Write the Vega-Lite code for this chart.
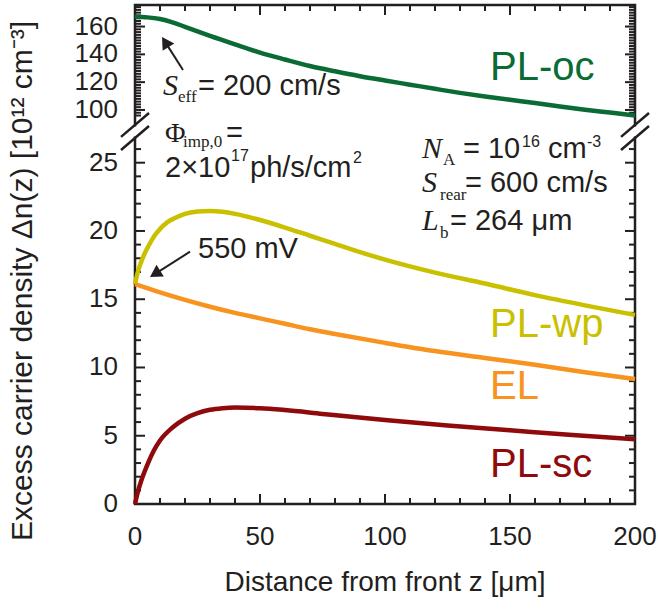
{
  "$schema": "https://vega.github.io/schema/vega-lite/v6.json",
  "width": 500,
  "height": 499,
  "autosize": {"type": "none"},
  "padding": {"left": 135, "top": 5, "right": 23, "bottom": 106},
  "background": "white",
  "config": {
    "view": {"stroke": "#231f20", "strokeWidth": 2.5},
    "font": "Liberation Sans"
  },
  "datasets": {
    "lines": [
      {"series": "PL-oc", "x": 0, "y": 167.0}, {"series": "PL-oc", "x": 5, "y": 166.6}, {"series": "PL-oc", "x": 10, "y": 165.4}, {"series": "PL-oc", "x": 15, "y": 163.0}, {"series": "PL-oc", "x": 20, "y": 159.8}, {"series": "PL-oc", "x": 25, "y": 156.5}, {"series": "PL-oc", "x": 30, "y": 153.3}, {"series": "PL-oc", "x": 40, "y": 147.2}, {"series": "PL-oc", "x": 50, "y": 141.3}, {"series": "PL-oc", "x": 60, "y": 136.3}, {"series": "PL-oc", "x": 70, "y": 131.6}, {"series": "PL-oc", "x": 80, "y": 127.8}, {"series": "PL-oc", "x": 90, "y": 124.3}, {"series": "PL-oc", "x": 100, "y": 121.2}, {"series": "PL-oc", "x": 110, "y": 118.2}, {"series": "PL-oc", "x": 120, "y": 115.2}, {"series": "PL-oc", "x": 130, "y": 112.3}, {"series": "PL-oc", "x": 140, "y": 109.7}, {"series": "PL-oc", "x": 150, "y": 107.3}, {"series": "PL-oc", "x": 160, "y": 105.0}, {"series": "PL-oc", "x": 170, "y": 102.5}, {"series": "PL-oc", "x": 180, "y": 100.2}, {"series": "PL-oc", "x": 190, "y": 98.1}, {"series": "PL-oc", "x": 200, "y": 96.0},
      {"series": "PL-wp", "x": 0, "y": 16.1}, {"series": "PL-wp", "x": 1, "y": 16.9}, {"series": "PL-wp", "x": 2, "y": 17.5}, {"series": "PL-wp", "x": 4, "y": 18.4}, {"series": "PL-wp", "x": 6, "y": 19.1}, {"series": "PL-wp", "x": 8, "y": 19.7}, {"series": "PL-wp", "x": 10, "y": 20.15}, {"series": "PL-wp", "x": 13, "y": 20.65}, {"series": "PL-wp", "x": 16, "y": 20.95}, {"series": "PL-wp", "x": 20, "y": 21.25}, {"series": "PL-wp", "x": 25, "y": 21.42}, {"series": "PL-wp", "x": 30, "y": 21.47}, {"series": "PL-wp", "x": 35, "y": 21.4}, {"series": "PL-wp", "x": 40, "y": 21.25}, {"series": "PL-wp", "x": 50, "y": 20.8}, {"series": "PL-wp", "x": 60, "y": 20.25}, {"series": "PL-wp", "x": 70, "y": 19.65}, {"series": "PL-wp", "x": 80, "y": 19.05}, {"series": "PL-wp", "x": 90, "y": 18.45}, {"series": "PL-wp", "x": 100, "y": 17.9}, {"series": "PL-wp", "x": 120, "y": 16.95}, {"series": "PL-wp", "x": 140, "y": 16.15}, {"series": "PL-wp", "x": 160, "y": 15.3}, {"series": "PL-wp", "x": 180, "y": 14.55}, {"series": "PL-wp", "x": 200, "y": 13.85},
      {"series": "EL", "x": 0, "y": 16.1}, {"series": "EL", "x": 10, "y": 15.5}, {"series": "EL", "x": 20, "y": 14.95}, {"series": "EL", "x": 30, "y": 14.45}, {"series": "EL", "x": 40, "y": 14.0}, {"series": "EL", "x": 50, "y": 13.6}, {"series": "EL", "x": 60, "y": 13.2}, {"series": "EL", "x": 70, "y": 12.8}, {"series": "EL", "x": 80, "y": 12.45}, {"series": "EL", "x": 100, "y": 11.8}, {"series": "EL", "x": 120, "y": 11.2}, {"series": "EL", "x": 140, "y": 10.7}, {"series": "EL", "x": 160, "y": 10.2}, {"series": "EL", "x": 180, "y": 9.65}, {"series": "EL", "x": 200, "y": 9.15},
      {"series": "PL-sc", "x": 0, "y": 0}, {"series": "PL-sc", "x": 1, "y": 0.8}, {"series": "PL-sc", "x": 2.5, "y": 1.7}, {"series": "PL-sc", "x": 5, "y": 2.9}, {"series": "PL-sc", "x": 7.5, "y": 3.9}, {"series": "PL-sc", "x": 10, "y": 4.65}, {"series": "PL-sc", "x": 15, "y": 5.6}, {"series": "PL-sc", "x": 20, "y": 6.25}, {"series": "PL-sc", "x": 25, "y": 6.65}, {"series": "PL-sc", "x": 30, "y": 6.9}, {"series": "PL-sc", "x": 35, "y": 7.02}, {"series": "PL-sc", "x": 40, "y": 7.07}, {"series": "PL-sc", "x": 50, "y": 7.02}, {"series": "PL-sc", "x": 60, "y": 6.88}, {"series": "PL-sc", "x": 75, "y": 6.6}, {"series": "PL-sc", "x": 100, "y": 6.15}, {"series": "PL-sc", "x": 125, "y": 5.75}, {"series": "PL-sc", "x": 150, "y": 5.4}, {"series": "PL-sc", "x": 175, "y": 5.05}, {"series": "PL-sc", "x": 200, "y": 4.75}
    ],
    "xmaj": [{"v": 0}, {"v": 50}, {"v": 100}, {"v": 150}, {"v": 200}],
    "xmin": [{"v": 10}, {"v": 20}, {"v": 30}, {"v": 40}, {"v": 60}, {"v": 70}, {"v": 80}, {"v": 90}, {"v": 110}, {"v": 120}, {"v": 130}, {"v": 140}, {"v": 160}, {"v": 170}, {"v": 180}, {"v": 190}],
    "ymaj": [{"v": 0}, {"v": 5}, {"v": 10}, {"v": 15}, {"v": 20}, {"v": 25}, {"v": 100}, {"v": 120}, {"v": 140}, {"v": 160}],
    "ymin": [{"v": 1}, {"v": 2}, {"v": 3}, {"v": 4}, {"v": 6}, {"v": 7}, {"v": 8}, {"v": 9}, {"v": 11}, {"v": 12}, {"v": 13}, {"v": 14}, {"v": 16}, {"v": 17}, {"v": 18}, {"v": 19}, {"v": 21}, {"v": 22}, {"v": 23}, {"v": 24}, {"v": 26}, {"v": 96}, {"v": 98}, {"v": 102}, {"v": 104}, {"v": 106}, {"v": 108}, {"v": 110}, {"v": 112}, {"v": 114}, {"v": 116}, {"v": 118}, {"v": 122}, {"v": 124}, {"v": 126}, {"v": 128}, {"v": 130}, {"v": 132}, {"v": 134}, {"v": 136}, {"v": 138}, {"v": 142}, {"v": 144}, {"v": 146}, {"v": 148}, {"v": 150}, {"v": 152}, {"v": 154}, {"v": 156}, {"v": 158}, {"v": 162}, {"v": 164}, {"v": 166}, {"v": 168}, {"v": 170}, {"v": 172}, {"v": 174}],
    "titles": [
      {"axis": "x", "text": "Distance from front z [μm]"},
      {"axis": "y", "text": "Excess carrier density Δn(z) [10¹² cm⁻³]"}
    ],
    "labels": [
      {"series": "PL-oc", "x": 142, "y": 121.5},
      {"series": "PL-wp", "x": 142, "y": 12.23},
      {"series": "EL", "x": 142, "y": 7.69},
      {"series": "PL-sc", "x": 142, "y": 1.98}
    ],
    "ann": [
      {"x": 25.2, "y": 110.8, "text": "= 200 cm/s"},
      {"x": 36.4, "y": 26.5, "text": "="},
      {"x": 12, "y": 23.96, "text": "2×10"},
      {"x": 46, "y": 23.96, "text": "ph/s/cm"},
      {"x": 131.2, "y": 25.35, "text": "= 10"},
      {"x": 165.2, "y": 25.35, "text": "cm"},
      {"x": 132, "y": 22.86, "text": "= 600 cm/s"},
      {"x": 126, "y": 20.07, "text": "= 264 μm"},
      {"x": 25.2, "y": 18.02, "text": "550 mV"}
    ],
    "sup": [
      {"x": 38.4, "y": 25.1, "text": "17"},
      {"x": 87.2, "y": 25.0, "text": "2"},
      {"x": 154.8, "y": 26.15, "text": "16"},
      {"x": 180.8, "y": 26.15, "text": "-3"}
    ],
    "ital": [
      {"x": 11.2, "y": 110.8, "text": "S"},
      {"x": 114.8, "y": 25.35, "text": "N"},
      {"x": 114.8, "y": 22.86, "text": "S"},
      {"x": 114.8, "y": 20.07, "text": "L"}
    ],
    "phi": [{"x": 12, "y": 26.5, "text": "Φ"}],
    "sub": [
      {"x": 17.2, "y": 105.7, "text": "eff"},
      {"x": 19.2, "y": 26.15, "text": "imp,0"},
      {"x": 123.2, "y": 24.84, "text": "A"},
      {"x": 122, "y": 22.27, "text": "rear"},
      {"x": 122, "y": 19.49, "text": "b"}
    ],
    "gaps": [
      {"x": 0, "y": 26.92, "y2": 61.9},
      {"x": 200, "y": 26.92, "y2": 61.9}
    ],
    "breaks": [
      {"x": -5.6, "y": 26.89, "x2": 5.6, "y2": 97.8},
      {"x": -5.6, "y": 25.93, "x2": 5.6, "y2": 63.8},
      {"x": 194.4, "y": 26.89, "x2": 205.6, "y2": 97.8},
      {"x": 194.4, "y": 25.93, "x2": 205.6, "y2": 63.8}
    ],
    "shafts": [
      {"arrow": "a", "x": 19.2, "y": 128.7, "x2": 12.1, "y2": 148.8},
      {"arrow": "b", "x": 22, "y": 18.48, "x2": 8.04, "y2": 16.86}
    ],
    "heads": [
      {"arrow": "a", "x": 12.1, "y": 148.8},
      {"arrow": "b", "x": 8.04, "y": 16.86}
    ]
  },
  "layer": [
    {
      "data": {"name": "xmaj"},
      "mark": {"type": "rule", "color": "#231f20", "strokeWidth": 2},
      "encoding": {"x": {"field": "v", "type": "quantitative", "axis": null}, "y": {"datum": 0, "axis": null}, "y2": {"datum": 0.73}}
    },
    {
      "data": {"name": "xmaj"},
      "mark": {"type": "rule", "color": "#231f20", "strokeWidth": 2},
      "encoding": {"x": {"field": "v", "type": "quantitative", "axis": null}, "y": {"datum": 175.5, "axis": null}, "y2": {"datum": 168.3}}
    },
    {
      "data": {"name": "xmin"},
      "mark": {"type": "rule", "color": "#231f20", "strokeWidth": 2},
      "encoding": {"x": {"field": "v", "type": "quantitative", "axis": null}, "y": {"datum": 0, "axis": null}, "y2": {"datum": 0.44}}
    },
    {
      "data": {"name": "xmin"},
      "mark": {"type": "rule", "color": "#231f20", "strokeWidth": 2},
      "encoding": {"x": {"field": "v", "type": "quantitative", "axis": null}, "y": {"datum": 175.5, "axis": null}, "y2": {"datum": 171.2}}
    },
    {
      "data": {"name": "ymaj"},
      "mark": {"type": "rule", "color": "#231f20", "strokeWidth": 2},
      "encoding": {"y": {"field": "v", "type": "quantitative", "axis": null}, "x": {"datum": 0, "axis": null}, "x2": {"datum": 4}}
    },
    {
      "data": {"name": "ymaj"},
      "mark": {"type": "rule", "color": "#231f20", "strokeWidth": 2},
      "encoding": {"y": {"field": "v", "type": "quantitative", "axis": null}, "x": {"datum": 200, "axis": null}, "x2": {"datum": 196}}
    },
    {
      "data": {"name": "ymin"},
      "mark": {"type": "rule", "color": "#231f20", "strokeWidth": 2},
      "encoding": {"y": {"field": "v", "type": "quantitative", "axis": null}, "x": {"datum": 0, "axis": null}, "x2": {"datum": 2.4}}
    },
    {
      "data": {"name": "ymin"},
      "mark": {"type": "rule", "color": "#231f20", "strokeWidth": 2},
      "encoding": {"y": {"field": "v", "type": "quantitative", "axis": null}, "x": {"datum": 200, "axis": null}, "x2": {"datum": 197.6}}
    },
    {
      "data": {"name": "xmaj"},
      "mark": {"type": "text", "align": "center", "baseline": "middle", "font": "Liberation Sans", "fontSize": 26, "color": "#231f20"},
      "encoding": {
        "x": {"field": "v", "type": "quantitative", "axis": null},
        "y": {"datum": -2.45, "axis": null},
        "text": {"field": "v", "type": "quantitative", "format": "d"}
      }
    },
    {
      "data": {"name": "ymaj"},
      "mark": {"type": "text", "align": "right", "baseline": "middle", "font": "Liberation Sans", "fontSize": 26, "color": "#231f20"},
      "encoding": {
        "y": {"field": "v", "type": "quantitative", "axis": null},
        "x": {"datum": -6.8, "axis": null},
        "text": {"field": "v", "type": "quantitative", "format": "d"}
      }
    },
    {
      "data": {"name": "titles"},
      "transform": [{"filter": "datum.axis === 'x'"}],
      "mark": {"type": "text", "align": "center", "baseline": "alphabetic", "font": "Liberation Sans", "fontSize": 28, "color": "#231f20"},
      "encoding": {
        "x": {"datum": 100, "axis": null},
        "y": {"datum": -6.37, "axis": null},
        "text": {"field": "text"}
      }
    },
    {
      "data": {"name": "titles"},
      "transform": [{"filter": "datum.axis === 'y'"}],
      "mark": {"type": "text", "align": "center", "baseline": "alphabetic", "font": "Liberation Sans", "fontSize": 30, "color": "#231f20", "angle": 270},
      "encoding": {
        "x": {"datum": -41.2, "axis": null},
        "y": {"datum": 16.34, "axis": null},
        "text": {"field": "text"}
      }
    },
    {
      "encoding": {
        "x": {
          "field": "x", "type": "quantitative",
          "scale": {"domain": [0, 200], "nice": false, "zero": false},
          "axis": null
        },
        "y": {
          "field": "y", "type": "quantitative",
          "scale": {"domain": [0, 27, 94, 175.5], "range": [499, 130.4, 113.3, 0], "nice": false, "zero": false},
          "axis": null
        }
      },
      "layer": [
        {
          "data": {"name": "lines"},
          "mark": {"type": "line", "strokeWidth": 4.5, "interpolate": "monotone", "strokeCap": "butt"},
          "encoding": {
            "color": {"field": "series", "type": "nominal", "scale": {"domain": ["PL-oc", "PL-wp", "EL", "PL-sc"], "range": ["#0b6b35", "#c9c000", "#f7931e", "#8f0a0a"]}, "legend": null}
          }
        },
        {
          "data": {"name": "labels"},
          "mark": {"type": "text", "align": "left", "baseline": "alphabetic", "font": "Liberation Sans", "fontSize": 40},
          "encoding": {
            "text": {"field": "series"},
            "color": {"field": "series", "type": "nominal", "legend": null}
          }
        },
        {
          "data": {"name": "ann"},
          "mark": {"type": "text", "align": "left", "baseline": "alphabetic", "font": "Liberation Sans", "fontSize": 29, "color": "#231f20"},
          "encoding": {"text": {"field": "text"}}
        },
        {
          "data": {"name": "sup"},
          "mark": {"type": "text", "align": "left", "baseline": "alphabetic", "font": "Liberation Sans", "fontSize": 16, "color": "#231f20"},
          "encoding": {"text": {"field": "text"}}
        },
        {
          "data": {"name": "ital"},
          "mark": {"type": "text", "align": "left", "baseline": "alphabetic", "font": "Liberation Serif", "fontStyle": "italic", "fontSize": 30, "color": "#231f20"},
          "encoding": {"text": {"field": "text"}}
        },
        {
          "data": {"name": "phi"},
          "mark": {"type": "text", "align": "left", "baseline": "alphabetic", "font": "Liberation Serif", "fontSize": 28, "color": "#231f20"},
          "encoding": {"text": {"field": "text"}}
        },
        {
          "data": {"name": "sub"},
          "mark": {"type": "text", "align": "left", "baseline": "alphabetic", "font": "Liberation Serif", "fontSize": 17, "color": "#231f20"},
          "encoding": {"text": {"field": "text"}}
        },
        {
          "data": {"name": "gaps"},
          "mark": {"type": "rule", "color": "white", "strokeWidth": 6},
          "encoding": {"y2": {"field": "y2"}}
        },
        {
          "data": {"name": "breaks"},
          "mark": {"type": "rule", "color": "#231f20", "strokeWidth": 2.5},
          "encoding": {"x2": {"field": "x2"}, "y2": {"field": "y2"}}
        },
        {
          "data": {"name": "shafts"},
          "mark": {"type": "rule", "color": "#231f20", "strokeWidth": 2},
          "encoding": {"x2": {"field": "x2"}, "y2": {"field": "y2"}}
        },
        {
          "data": {"name": "heads"},
          "transform": [{"filter": "datum.arrow === 'a'"}],
          "mark": {"type": "point", "shape": "triangle-up", "filled": true, "color": "#231f20", "opacity": 1, "size": 190, "angle": 327.5}
        },
        {
          "data": {"name": "heads"},
          "transform": [{"filter": "datum.arrow === 'b'"}],
          "mark": {"type": "point", "shape": "triangle-up", "filled": true, "color": "#231f20", "opacity": 1, "size": 190, "angle": 238}
        }
      ]
    }
  ]
}
